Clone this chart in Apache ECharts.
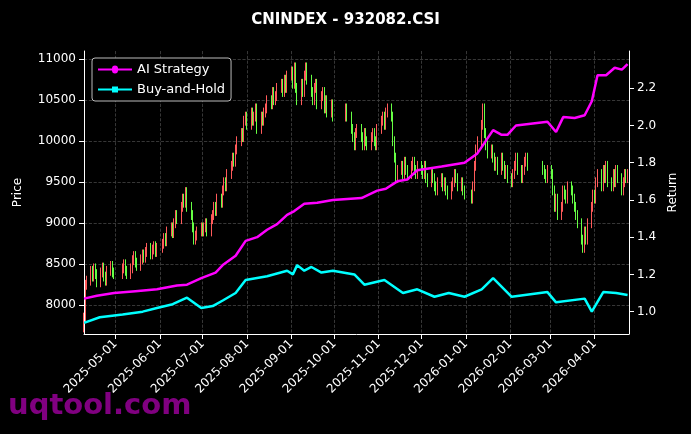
<!DOCTYPE html>
<html>
<head>
<meta charset="utf-8">
<script src="https://cdn.jsdelivr.net/npm/echarts@6/dist/echarts.min.js"></script>
<style>html,body{margin:0;background:#000}#main{width:691px;height:434px}</style>
</head>
<body>
<div id="main"></div>
<script>
// trading-day closes, month by month
const closes = [
  // 2025-04
  7850,8250,8300,8420,8350,8450,8380,8280,8400,8460,8350,8300,8420,8480,8400,8380,
  // 2025-05
  8450,8500,8420,8380,8450,8550,8600,8520,8480,8560,8620,8580,8650,8700,8620,8680,8720,8650,8700,
  // 2025-06
  8750,8820,8780,8900,8950,8880,9000,9100,9050,9200,9300,9250,9380,9200,9100,8950,8800,8850,8900,8950,
  // 2025-07
  8900,8950,9000,8900,9050,9100,9200,9150,9300,9250,9400,9500,9450,9600,9700,9800,9750,9900,10000,10100,10050,10250,10300,
  // 2025-08
  10200,10350,10250,10300,10400,10150,10300,10250,10350,10400,10500,10450,10600,10500,10550,10650,10700,10600,10750,10650,10800,
  // 2025-09
  10850,10700,10900,10650,10500,10700,10600,10800,10900,10750,10600,10500,10650,10700,10450,10550,10600,10400,10500,10350,10450,10300,
  // 2025-10
  10400,10300,10150,10050,9950,10100,10150,10050,9950,10100,10000,9950,10050,10100,10000,9950,10150,
  // 2025-11
  10250,10300,10200,10350,10400,10300,10000,9800,9550,9650,9700,9600,9750,9650,9600,9700,9750,9650,9600,9700,
  // 2025-12
  9650,9600,9700,9550,9500,9600,9550,9450,9400,9500,9550,9450,9500,9400,9350,9450,9500,9600,9550,9450,9500,9400,9350,
  // 2026-01
  9300,9450,9700,9900,10000,10200,10400,10100,9950,9850,9900,9800,9700,9750,9650,9800,9700,9600,9650,9550,
  // 2026-02
  9500,9600,9700,9800,9650,9550,9650,9750,9800,9700,9650,9600,9550,9650,
  // 2026-03
  9600,9400,9200,9300,9100,9200,9400,9350,9300,9450,9400,9300,9200,9100,9000,8800,8700,8900,8800,9000,9200,9350,
  // 2026-04
  9300,9500,9600,9450,9650,9550,9700,9500,9450,9600,9500,9650,9550,9400,9500,9600,9550,9600
];
const holidays = [['2025-05-01','2025-05-05'],['2025-06-02','2025-06-02'],['2025-10-01','2025-10-08'],
  ['2026-01-01','2026-01-02'],['2026-02-16','2026-02-23']];

const aiDates = ['2025-04-09','2025-04-18','2025-04-30','2025-05-15','2025-05-30','2025-06-13','2025-06-20','2025-06-30',
  '2025-07-10','2025-07-15','2025-07-24','2025-07-31','2025-08-08','2025-08-15','2025-08-22','2025-08-29',
  '2025-09-03','2025-09-10','2025-09-19','2025-09-30','2025-10-20','2025-10-31','2025-11-06','2025-11-14','2025-11-21',
  '2025-11-28','2025-12-15','2025-12-31','2026-01-09','2026-01-20','2026-01-26','2026-01-30','2026-02-05','2026-02-27',
  '2026-03-05','2026-03-10','2026-03-18','2026-03-25','2026-03-30','2026-04-03','2026-04-09','2026-04-15','2026-04-20',
  '2026-04-24'];
const aiValues = [1.07,1.085,1.10,1.11,1.12,1.14,1.145,1.18,1.21,1.25,1.30,1.38,1.40,1.44,1.47,1.52,
  1.54,1.58,1.585,1.60,1.61,1.65,1.66,1.70,1.71,1.76,1.78,1.80,1.85,1.975,1.95,1.95,2.00,2.02,
  1.965,2.045,2.04,2.055,2.13,2.27,2.27,2.31,2.30,2.33];
const bhDates = ['2025-04-09','2025-04-20','2025-05-06','2025-05-20','2025-05-30','2025-06-10','2025-06-20','2025-06-30',
  '2025-07-08','2025-07-15','2025-07-24','2025-07-31','2025-08-15','2025-08-29','2025-09-02','2025-09-05','2025-09-10',
  '2025-09-15','2025-09-22','2025-09-30','2025-10-15','2025-10-22','2025-11-05','2025-11-18','2025-11-28',
  '2025-12-10','2025-12-20','2025-12-31','2026-01-12','2026-01-20','2026-02-02','2026-02-27','2026-03-05','2026-03-25',
  '2026-03-30','2026-04-07','2026-04-16','2026-04-24'];
const bhValues = [0.94,0.97,0.985,1.00,1.02,1.04,1.075,1.02,1.03,1.06,1.10,1.17,1.19,1.22,1.20,1.25,1.22,
  1.24,1.21,1.22,1.20,1.145,1.17,1.10,1.12,1.08,1.10,1.08,1.12,1.18,1.08,1.105,1.05,1.07,
  1.00,1.105,1.10,1.09];

const priceTicks = [8000,8500,9000,9500,10000,10500,11000];
const returnTicks = [1.0,1.2,1.4,1.6,1.8,2.0,2.2];
const monthTicks = ['2025-05-01','2025-06-01','2025-07-01','2025-08-01','2025-09-01','2025-10-01','2025-11-01',
  '2025-12-01','2026-01-01','2026-02-01','2026-03-01','2026-04-01'];

// trading days: weekdays from 2025-04-09, skipping holidays
const days = [];
const d = new Date(Date.UTC(2025, 3, 9));
while (days.length < closes.length) {
  const s = d.toISOString().slice(0, 10);
  const wd = d.getUTCDay();
  const hol = holidays.some(h => s >= h[0] && s <= h[1]);
  if (wd !== 0 && wd !== 6 && !hol) days.push(s);
  d.setUTCDate(d.getUTCDate() + 1);
}
const ts = s => new Date(s + 'T00:00:00Z').getTime();
const candles = closes.map((c, i) => {
  const o = i === 0 ? c - 120 : closes[i - 1];
  return [ts(days[i]), o, c, Math.min(o, c) - 60, Math.max(o, c) + 60];
});

const chart = echarts.init(document.getElementById('main'));
const white = '#ffffff';
const grid = { show: true, lineStyle: { color: '#444', type: 'dashed', width: 0.8 } };
const dateStr = v => new Date(v).toISOString().slice(0, 10);

chart.setOption({
  backgroundColor: '#000',
  animation: false,
  title: { text: 'CNINDEX - 932082.CSI', left: 'center', top: 8,
    textStyle: { color: white, fontSize: 15, fontWeight: 'bold', fontFamily: 'DejaVu Sans' } },
  graphic: [{ type: 'text', left: 8, top: 392,
    style: { text: 'uqtool.com', fill: '#800080', font: 'bold 29px DejaVu Sans' } }],
  legend: {
    left: 92, top: 58, orient: 'vertical', itemGap: 7, itemWidth: 34, itemHeight: 8,
    backgroundColor: '#000', borderColor: '#bbb', borderWidth: 1, borderRadius: 3, padding: [5, 6],
    textStyle: { color: white, fontSize: 13, fontFamily: 'DejaVu Sans' },
    data: [{ name: 'AI Strategy', icon: 'path://M0,4h14a3,3 0 1 1 6,0h14v2h-14a3,3 0 1 1 -6,0h-14z' },
           { name: 'Buy-and-Hold', icon: 'path://M0,4h14v-2h6v2h14v2h-14v2h-6v-2h-14z' }]
  },
  grid: { left: 84, right: 62, top: 51, bottom: 100 },
  xAxis: {
    type: 'value', min: ts('2025-04-09'), max: ts('2026-04-25'),
    axisLine: { lineStyle: { color: white } },
    axisTick: { show: true, customValues: monthTicks.map(ts), lineStyle: { color: white } },
    axisLabel: { customValues: monthTicks.map(ts), rotate: 45, color: white, fontSize: 12,
      fontFamily: 'DejaVu Sans', formatter: dateStr },
    splitLine: grid
  },
  yAxis: [
    { type: 'value', min: 7650, max: 11100, name: 'Price', nameLocation: 'middle', nameGap: 60,
      nameTextStyle: { color: white, fontSize: 12, fontFamily: 'DejaVu Sans' },
      axisLine: { show: true, lineStyle: { color: white } },
      axisTick: { show: true, customValues: priceTicks },
      axisLabel: { customValues: priceTicks, color: white, fontSize: 12, fontFamily: 'DejaVu Sans',
        formatter: v => String(v) },
      splitLine: grid },
    { type: 'value', min: 0.88, max: 2.4, name: 'Return', nameLocation: 'middle', nameGap: 38,
      nameRotate: 90,
      nameTextStyle: { color: white, fontSize: 12, fontFamily: 'DejaVu Sans' },
      axisLine: { show: true, lineStyle: { color: white } },
      axisTick: { show: true, customValues: returnTicks },
      axisLabel: { customValues: returnTicks, color: white, fontSize: 12, fontFamily: 'DejaVu Sans',
        formatter: v => v.toFixed(1) },
      splitLine: { show: false } }
  ],
  series: [
    { type: 'candlestick', name: 'Price', data: candles,
      barWidth: 1, itemStyle: { color: '#ff5a5a', color0: '#66ff44', borderColor: '#ff5a5a', borderColor0: '#66ff44', borderWidth: 1 } },
    { type: 'line', name: 'AI Strategy', yAxisIndex: 1, showSymbol: false, symbol: 'circle',
      data: aiDates.map((t, i) => [ts(t), aiValues[i]]),
      lineStyle: { color: '#ff00ff', width: 2.5 }, itemStyle: { color: '#ff00ff' } },
    { type: 'line', name: 'Buy-and-Hold', yAxisIndex: 1, showSymbol: false, symbol: 'rect',
      data: bhDates.map((t, i) => [ts(t), bhValues[i]]),
      lineStyle: { color: '#00ffff', width: 2.5 }, itemStyle: { color: '#00ffff' } }
  ]
});
</script>
</body>
</html>
